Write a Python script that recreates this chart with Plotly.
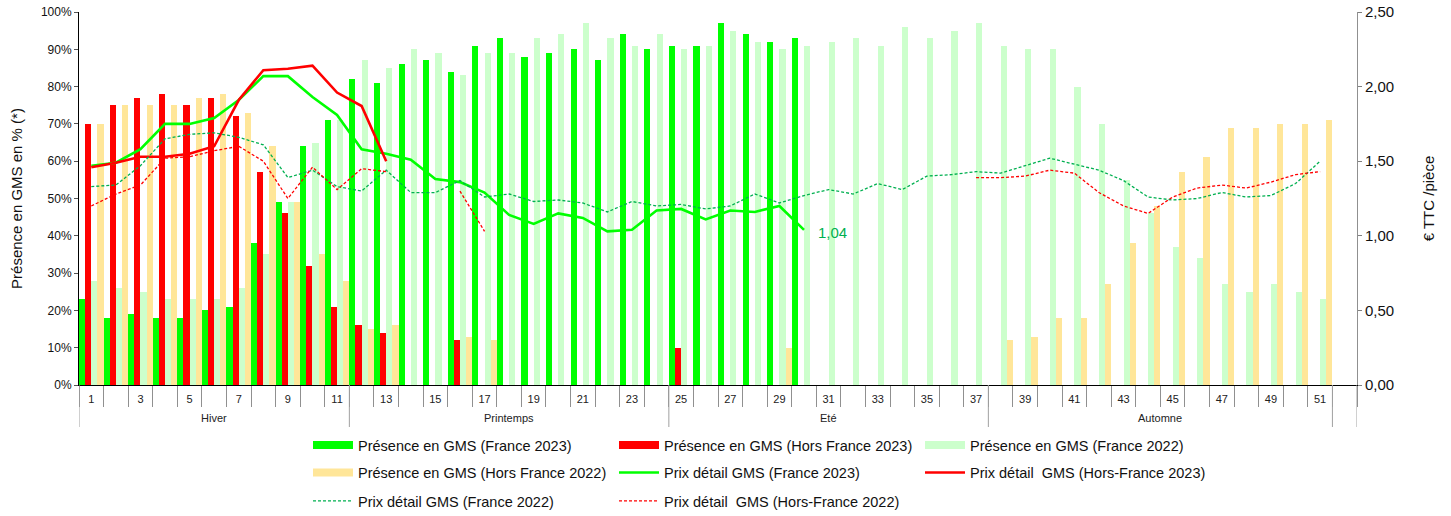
import plotly.graph_objects as go

# ---------------- data ----------------
weeks = list(range(1, 53))
week_labels = [str(w) if w % 2 == 1 else "" for w in weeks]

seasons = ["Hiver", "Printemps", "Eté", "Automne"]
season_start = [1, 12, 25, 38]
season_end = [11, 24, 37, 51]

pct_ticks = list(range(0, 101, 10))
eur_ticks = [0, 0.5, 1, 1.5, 2, 2.5]

N = None
pres_fr_2023 = [23, 18, 19, 18, 18, 20, 21, 38, 49, 64, 71, 82, 81, 86, 87, 84, 91, 93, 88, 89,
                90, 87, 94, 90, 91, 91, 97, 94, 92, 93] + [N] * 22
pres_hf_2023 = [70, 75, 77, 78, 75, 77, 72, 57, 46, 32, 21, 16, 14, N, N, 12] + [N] * 8 + [10] + [N] * 27
pres_fr_2022 = [28, 26, 25, 23, 23, 23, 26, 35, 49, 65, 71, 87, 85, 90, 89, 83, 89, 89, 93, 94,
                97, 93, 91, 94, 90, 91, 95, 92, 90, 91, 92, 93, 91, 96, 93, 95, 97, 91, 90, 90,
                80, 70, 55, 46, 37, 34, 27, 25, 27, 25, 23, N]
pres_hf_2022 = [70, 75, 75, 75, 77, 78, 73, 64, 49, 35, 28, 15, 16, N, N, 13, 12] + [N] * 11 + [10] + [N] * 8 + \
               [12, 13, 18, 18, 27, 38, 48, 57, 61, 69, 69, 70, 70, 71, N]

prix_fr_2023 = [1.47, 1.49, 1.58, 1.75, 1.75, 1.79, 1.91, 2.07, 2.07, 1.93, 1.81, 1.58, 1.55, 1.51, 1.38,
                1.36, 1.29, 1.14, 1.08, 1.15, 1.12, 1.03, 1.04, 1.17, 1.18, 1.11, 1.17, 1.16, 1.20, 1.04] + [N] * 22
prix_hf_2023 = [1.46, 1.49, 1.53, 1.53, 1.55, 1.60, 1.91, 2.11, 2.12, 2.14, 1.96, 1.87, 1.50] + [N] * 39
prix_fr_2022 = [1.33, 1.34, 1.47, 1.65, 1.68, 1.69, 1.66, 1.61, 1.39, 1.44,
                1.33, 1.30, 1.44, 1.29, 1.29, 1.37, 1.26, 1.28, 1.23, 1.24,
                1.22, 1.16, 1.23, 1.20, 1.21, 1.18, 1.20, 1.28, 1.22, 1.27,
                1.31, 1.28, 1.35, 1.31, 1.40, 1.41, 1.43, 1.42, 1.47, 1.52,
                1.48, 1.44, 1.37, 1.26, 1.24, 1.25, 1.29, 1.26, 1.27, 1.35, 1.50, N]
prix_hf_2022 = [1.20, 1.28, 1.34, 1.52, 1.53, 1.57, 1.60, 1.50, 1.25, 1.46, 1.31, 1.45, 1.43, N, N, 1.30, 1.03] + \
               [N] * 19 + [1.39, 1.39, 1.40, 1.44, 1.42, 1.29, 1.20, 1.15, 1.26, 1.32, 1.34, 1.32, 1.36, 1.41, 1.43, N]

bar_names = ["Présence en GMS (France 2023)", "Présence en GMS (Hors France 2023)",
             "Présence en GMS (France 2022)", "Présence en GMS (Hors France 2022)"]
line_names = ["Prix détail GMS (France 2023)", "Prix détail  GMS (Hors-France 2023)",
              "Prix détail GMS (France 2022)", "Prix détail  GMS (Hors-France 2022)"]

# ---------------- styles ----------------
C_GREEN = "#00FF00"
C_RED = "#FF0000"
C_LGREEN = "#CCFFCC"
C_ORANGE = "#FFE699"
C_DGREEN = "#00B050"
FONT = "Liberation Sans, Arial, sans-serif"

W, H = 1451, 516
ML, MR, MT, MB = 79, 94, 12, 131
PH = H - MT - MB

fig = go.Figure()

bar_series = [pres_fr_2023, pres_hf_2023, pres_fr_2022, pres_hf_2022]
bar_colors = [C_GREEN, C_RED, C_LGREEN, C_ORANGE]
for name, vals, col in zip(bar_names, bar_series, bar_colors):
    fig.add_trace(go.Bar(x=weeks, y=vals, name=name, marker=dict(color=col, line=dict(width=0)),
                         showlegend=False, yaxis="y"))

# legend proxies for the bars (wide rectangles as in the source)
bar_legends = ["legend", "legend", "legend", "legend2"]
for name, col, lg in zip(bar_names, bar_colors, bar_legends):
    fig.add_trace(go.Scatter(x=[None], y=[None], mode="lines", name=name,
                             line=dict(color=col, width=8), legend=lg, yaxis="y"))

line_series = [prix_fr_2023, prix_hf_2023, prix_fr_2022, prix_hf_2022]
line_styles = [dict(color=C_GREEN, width=2.6), dict(color=C_RED, width=2.6),
               dict(color=C_DGREEN, width=1.3, dash="3px,2px"), dict(color=C_RED, width=1.3, dash="3px,2px")]
line_legends = ["legend2", "legend2", "legend3", "legend3"]
for name, vals, st, lg in zip(line_names, line_series, line_styles, line_legends):
    fig.add_trace(go.Scatter(x=weeks, y=vals, name=name, mode="lines", line=st,
                             connectgaps=False, yaxis="y2", legend=lg))

# last value label of France 2023 price
last_idx = max(i for i, v in enumerate(prix_fr_2023) if v is not None)
fig.add_annotation(x=weeks[last_idx] + 0.5, y=prix_fr_2023[last_idx] - 0.015, xref="x", yref="y2",
                   text=f"{prix_fr_2023[last_idx]:.2f}".replace(".", ","), showarrow=False,
                   xanchor="left", yanchor="middle", font=dict(size=15, color=C_DGREEN, family=FONT))

# season group labels and separators
sep_len = 42 / PH
for s, a, b in zip(seasons, season_start, season_end):
    fig.add_annotation(x=(a + b) / 2, y=-33 / PH, xref="x", yref="paper", text=s, showarrow=False,
                       xanchor="center", yanchor="middle", font=dict(size=11, color="#222", family=FONT))
seps = sorted(set([a - 0.5 for a in season_start] + [b + 0.5 for b in season_end] + [weeks[-1] + 0.5]))
for xs in seps:
    fig.add_shape(type="line", xref="x", yref="paper", x0=xs, x1=xs, y0=0, y1=-sep_len,
                  line=dict(color="#A0A0A0", width=1))

legend_common = dict(orientation="h", xanchor="left", yanchor="middle", entrywidth=251,
                     entrywidthmode="pixels", itemwidth=40, bgcolor="rgba(0,0,0,0)",
                     font=dict(size=14.5, color="#111", family=FONT), traceorder="normal")
lx = (308 - ML) / (W - ML - MR)

fig.update_layout(
    width=W, height=H,
    margin=dict(l=ML, r=MR, t=MT, b=MB, autoexpand=False),
    template="none",
    paper_bgcolor="white", plot_bgcolor="white",
    font=dict(family=FONT, color="#111"),
    separators=", ",
    barmode="group", bargap=0, bargroupgap=0,
    legend=dict(x=lx, y=-(445 - MT - PH) / PH, **legend_common),
    legend2=dict(x=lx, y=-(472.5 - MT - PH) / PH, **legend_common),
    legend3=dict(x=lx, y=-(501 - MT - PH) / PH, **legend_common),
    xaxis=dict(range=[0.5, 52.5], tickmode="array", tickvals=weeks, ticktext=week_labels,
               ticks="", showgrid=False, zeroline=False, showline=True, linecolor="black", linewidth=1,
               tickfont=dict(size=11, color="#222", family=FONT), ticklabelstandoff=4,
               minor=dict(tickmode="array", tickvals=[w - 0.5 for w in weeks] + [weeks[-1] + 0.5],
                          ticks="outside", ticklen=21, tickcolor="#909090", tickwidth=1),
               automargin=False, fixedrange=True),
    yaxis=dict(range=[0, 100], tickmode="array", tickvals=pct_ticks,
               ticktext=[f"{v}%" for v in pct_ticks],
               ticks="outside", ticklen=4, tickcolor="#555", showgrid=False, zeroline=False,
               showline=True, linecolor="black", linewidth=1,
               tickfont=dict(size=12, color="#111", family=FONT),
               title=dict(text="Présence en GMS en % (*)", font=dict(size=15, color="#111", family=FONT),
                          standoff=14),
               automargin=False),
    yaxis2=dict(range=[0, 2.5], tickmode="array", tickvals=eur_ticks,
                ticktext=[f"{v:.2f}".replace(".", ",") for v in eur_ticks], overlaying="y",
                side="right", ticks="outside", ticklen=4, tickcolor="#808080", showgrid=False,
                zeroline=False, showline=True, linecolor="#909090", linewidth=1,
                tickfont=dict(size=15, color="#111", family=FONT),
                title=dict(text="€ TTC /pièce", font=dict(size=15, color="#111", family=FONT), standoff=30),
                automargin=False),
)

fig.write_html("out.html", config={"displayModeBar": False},
               post_script="document.body.style.margin='0';")
